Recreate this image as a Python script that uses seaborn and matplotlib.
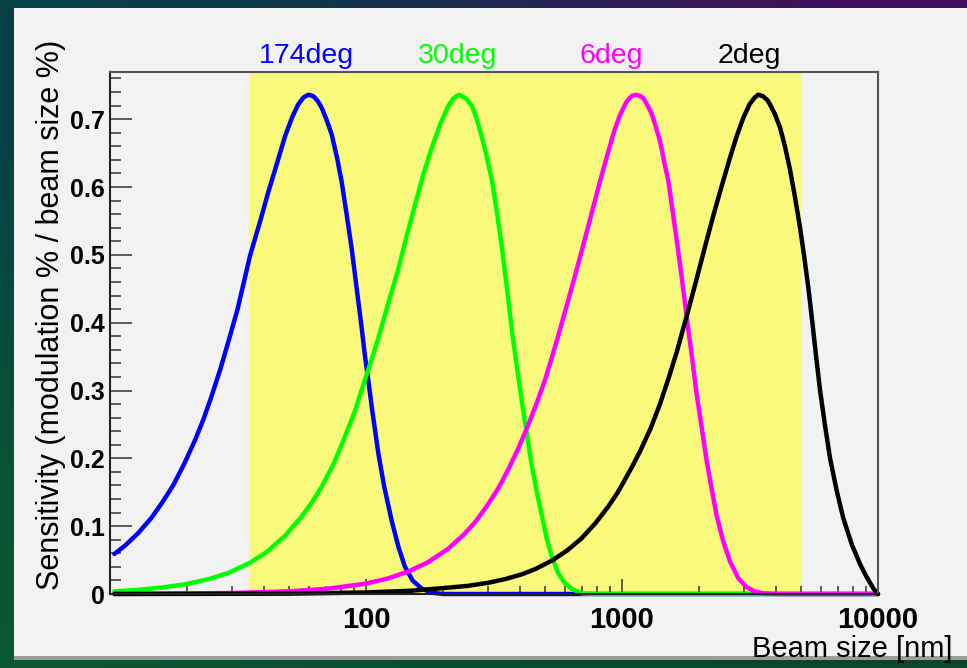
import numpy as np
import pandas as pd
import matplotlib
matplotlib.use("Agg")
import matplotlib.pyplot as plt
import matplotlib.ticker as mticker
from matplotlib.patches import Rectangle
import seaborn as sns

# curves (beam size in nm, sensitivity)
angles = ["174deg", "30deg", "6deg", "2deg"]
colors = ["#0000ff", "#00ff00", "#ff00ff", "#000000"]

x_174 = [10.4, 11.5, 12.9, 14.5, 16, 17.7, 19.5, 21.5, 23.2, 24.9, 27, 29, 31.5, 35.2, 38.5,
         41.5, 45, 48.3, 51.5, 54.4, 57, 59.5, 62.3, 65, 67.1, 70, 73.4, 77, 80.4, 84, 88,
         92, 96, 99, 102, 106, 112, 118, 126, 134, 142, 152, 165, 180, 200, 10000]
y_174 = [0.059, 0.072, 0.090, 0.112, 0.135, 0.161, 0.192, 0.227, 0.258, 0.291, 0.332, 0.372,
         0.420, 0.498, 0.548, 0.592, 0.636, 0.675, 0.703, 0.722, 0.732, 0.736, 0.734, 0.726,
         0.717, 0.700, 0.678, 0.644, 0.607, 0.560, 0.508, 0.450, 0.395, 0.352, 0.316, 0.268,
         0.205, 0.157, 0.108, 0.069, 0.040, 0.020, 0.008, 0.002, 0.0, 0.0]

x_30 = [10.4, 13, 16, 19.6, 24, 29, 35.2, 41, 48.3, 56, 62, 67.1, 75, 82.8, 91, 99.1, 105,
        111.7, 122, 133.7, 144, 155, 167, 180, 195, 210, 220, 231, 245, 259, 271, 283, 296,
        310, 324, 339, 355, 371, 388, 406, 425, 444, 465, 486, 508, 531, 565, 598, 640, 695,
        780, 10000]
y_30 = [0.004, 0.0063, 0.0096, 0.0143, 0.0214, 0.031, 0.046, 0.062, 0.086, 0.114, 0.137,
        0.158, 0.193, 0.232, 0.272, 0.316, 0.345, 0.377, 0.428, 0.479, 0.527, 0.572, 0.617,
        0.656, 0.693, 0.720, 0.731, 0.736, 0.731, 0.720, 0.700, 0.675, 0.645, 0.611, 0.565,
        0.513, 0.452, 0.390, 0.336, 0.285, 0.236, 0.190, 0.150, 0.116, 0.082, 0.056, 0.030,
        0.016, 0.007, 0.001, 0.0, 0.0]

x_6 = [10.4, 30, 50, 70, 99, 122, 146, 175, 210, 240, 267, 297, 329, 360, 394, 431, 465,
       500, 555, 605, 655, 710, 762, 820, 884, 935, 982, 1043, 1090, 1134, 1180, 1212, 1260,
       1306, 1355, 1407, 1460, 1517, 1575, 1634, 1700, 1762, 1815, 1870, 1955, 2040, 2138,
       2240, 2342, 2480, 2642, 2850, 3070, 3300, 3566, 4000, 10000]
y_6 = [0.0002, 0.0014, 0.0039, 0.0076, 0.015, 0.023, 0.033, 0.047, 0.067, 0.087, 0.106,
       0.130, 0.156, 0.184, 0.215, 0.250, 0.282, 0.315, 0.372, 0.422, 0.469, 0.518, 0.562,
       0.608, 0.652, 0.684, 0.706, 0.726, 0.734, 0.736, 0.734, 0.731, 0.720, 0.708, 0.689,
       0.668, 0.638, 0.609, 0.566, 0.523, 0.475, 0.429, 0.390, 0.354, 0.296, 0.250, 0.198,
       0.155, 0.116, 0.079, 0.048, 0.023, 0.010, 0.0038, 0.001, 0.0, 0.0]

x_2 = [10.4, 50, 99, 150, 197, 250, 300, 350, 406, 460, 531, 610, 695, 790, 884, 960, 1028,
       1100, 1175, 1290, 1407, 1520, 1634, 1790, 1955, 2110, 2270, 2450, 2640, 2800, 2978,
       3150, 3300, 3407, 3550, 3700, 3784, 3960, 4140, 4330, 4530, 4740, 4960, 5150, 5343,
       5550, 5740, 5935, 6200, 6497, 6900, 7316, 7900, 8511, 9000, 9595, 10000]
y_2 = [0.0, 0.0005, 0.0022, 0.0048, 0.0085, 0.012, 0.0165, 0.022, 0.029, 0.037, 0.049, 0.064,
       0.082, 0.105, 0.129, 0.149, 0.169, 0.189, 0.210, 0.243, 0.280, 0.318, 0.356, 0.410,
       0.464, 0.512, 0.557, 0.601, 0.643, 0.674, 0.702, 0.722, 0.732, 0.736, 0.734, 0.728,
       0.722, 0.707, 0.688, 0.660, 0.626, 0.585, 0.540, 0.497, 0.452, 0.398, 0.348, 0.301,
       0.250, 0.200, 0.152, 0.112, 0.073, 0.044, 0.026, 0.008, 0.0]

band = (35, 5000)
label_x = [58.4, 227, 906, 3133]
y_ticks = [0, 0.1, 0.2, 0.3, 0.4, 0.5, 0.6, 0.7]
y_tick_labels = ["0", "0.1", "0.2", "0.3", "0.4", "0.5", "0.6", "0.7"]
x_ticks = [100, 1000, 10000]
x_tick_labels = ["100", "1000", "10000"]

frames = []
for name, xs, ys in [("174deg", x_174, y_174), ("30deg", x_30, y_30),
                     ("6deg", x_6, y_6), ("2deg", x_2, y_2)]:
    frames.append(pd.DataFrame({"size": xs, "sens": ys, "angle": name}))
df = pd.concat(frames, ignore_index=True)

sns.set_style("ticks")
plt.rcParams["font.family"] = ["Liberation Sans", "DejaVu Sans"]
plt.rcParams["text.color"] = "black"
plt.rcParams["axes.labelcolor"] = "black"

W, H = 967, 668
fig = plt.figure(figsize=(W / 100, H / 100), dpi=100)

# slide-like background
bg = fig.add_axes([0, 0, 1, 1], zorder=-10)
grad = np.array([[[0.02, 0.25, 0.28], [0.11, 0.16, 0.33], [0.29, 0.04, 0.37]],
                 [[0.04, 0.35, 0.19], [0.04, 0.30, 0.18], [0.05, 0.28, 0.16]]])
bg.imshow(grad, extent=[0, 1, 0, 1], aspect="auto", interpolation="bicubic")
bg.add_patch(Rectangle((14 / W, (H - 660) / H), 1 - 14 / W, 652 / H,
                       transform=bg.transAxes, facecolor="#f2f2f2", edgecolor="none"))
bg.add_patch(Rectangle((14 / W, (H - 660) / H), 1 - 14 / W, 4 / H,
                       transform=bg.transAxes, facecolor="#9c9c9c", edgecolor="none"))
bg.set_xlim(0, 1)
bg.set_ylim(0, 1)
bg.axis("off")

ax = fig.add_axes([110 / W, (H - 594) / H, 768 / W, 522.3 / H])
ax.set_facecolor("#f2f2f2")
ax.axvspan(band[0], band[1], color="#f9f97c", zorder=0, lw=0)

sns.lineplot(data=df, x="size", y="sens", hue="angle", hue_order=angles,
             palette=dict(zip(angles, colors)), linewidth=3.2, estimator=None,
             legend=False, ax=ax)
for line in ax.lines:
    line.set_clip_on(False)
    line.set_solid_joinstyle("round")

ax.set_xscale("log")
ax.set_xlim(10, 10000)
ax.set_ylim(0, 0.77)

ax.set_yticks(y_ticks)
ax.set_yticklabels(y_tick_labels, fontsize=18, fontweight="bold")
ax.yaxis.set_minor_locator(mticker.MultipleLocator(0.02))
ax.set_xticks(x_ticks)
ax.set_xticklabels(x_tick_labels, fontsize=21, fontweight="bold")
ax.xaxis.set_minor_locator(mticker.LogLocator(base=10, subs=np.arange(2, 10)))
ax.xaxis.set_minor_formatter(mticker.NullFormatter())

ax.tick_params(axis="y", which="major", direction="in", length=16, width=1.1,
               color="#333333", labelcolor="black", pad=3.5)
ax.tick_params(axis="y", which="minor", direction="in", length=8, width=1.1, color="#333333")
ax.tick_params(axis="x", which="major", direction="in", length=11, width=1.1,
               color="#333333", labelcolor="black", pad=9)
ax.tick_params(axis="x", which="minor", direction="in", length=6, width=1.1, color="#333333")
ax.tick_params(top=False, right=False, which="both")

for side in ["left", "bottom"]:
    ax.spines[side].set_color("#222222")
    ax.spines[side].set_linewidth(1.5)
for side in ["top", "right"]:
    ax.spines[side].set_color("#555555")
    ax.spines[side].set_linewidth(1.5)

ax.set_ylabel("Sensitivity (modulation % / beam size %)", fontsize=22)
ax.yaxis.label.set_va("center")
ax.yaxis.set_label_coords(-0.0768, 0.534)
ax.set_xlabel("Beam size [nm]", fontsize=21)
ax.xaxis.label.set_ha("right")
ax.xaxis.label.set_va("baseline")
ax.xaxis.set_label_coords(1.0964, -0.1206)

for name, c, lx in zip(angles, colors, label_x):
    ax.text(lx, 1.0167, name, color=c, fontsize=20.5, ha="center", va="baseline",
            transform=ax.get_xaxis_transform())

fig.savefig("out.png", dpi=100)
